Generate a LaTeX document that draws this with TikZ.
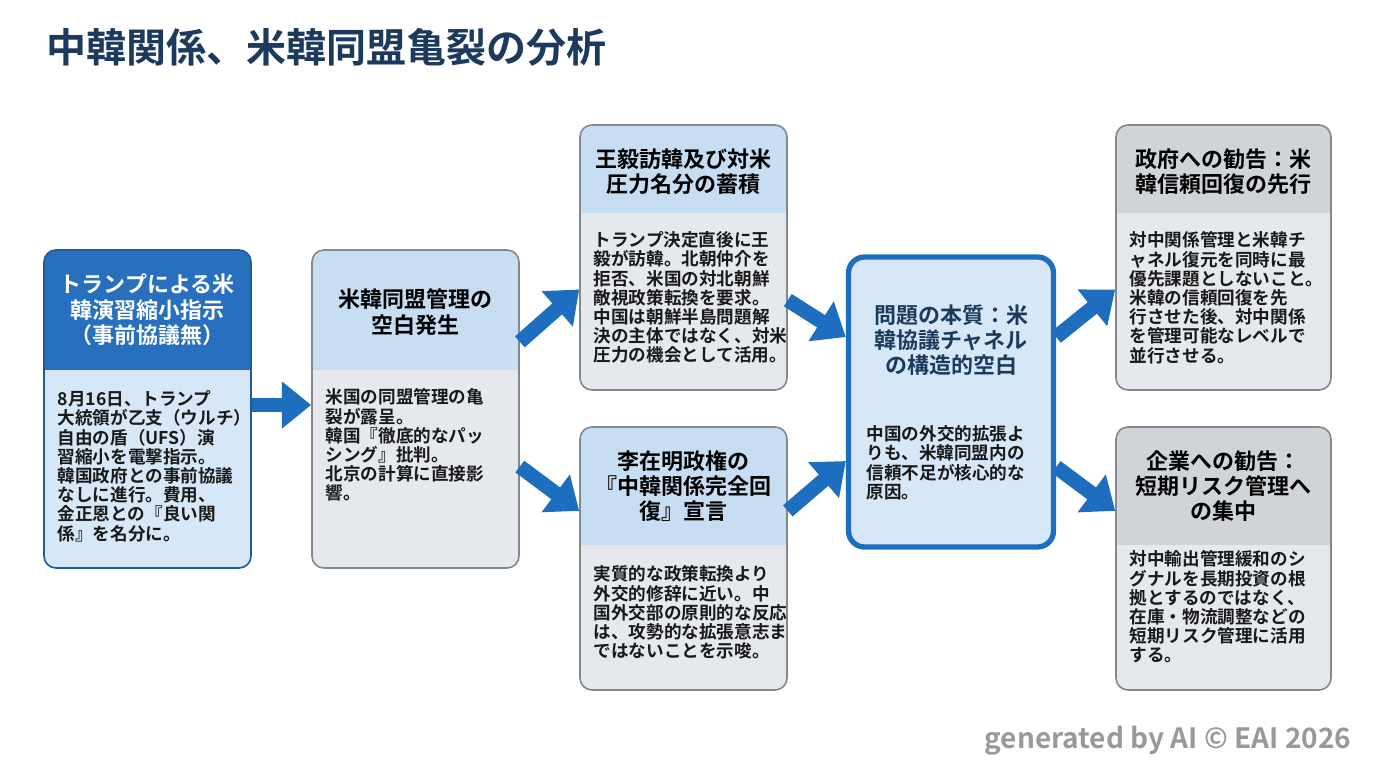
\documentclass[tikz,border=0pt]{standalone}
\usepackage{fontspec}
\setmainfont{Noto Sans CJK JP}[BoldFont={* Bold}]
\usetikzlibrary{arrows.meta,calc}
\definecolor{navy}{RGB}{27,58,92}
\definecolor{deepblue}{RGB}{40,112,190}
\definecolor{arrowblue}{RGB}{30,110,192}
\definecolor{paleblue}{RGB}{214,232,247}
\definecolor{lightblue}{RGB}{198,221,242}
\definecolor{bodygray}{RGB}{229,233,237}
\definecolor{hdrgray}{RGB}{208,212,217}
\definecolor{edgegray}{RGB}{130,136,142}
\tikzset{
  panel/.style={draw=edgegray, line width=1.2pt, rounded corners=9pt},
  hdtext/.style={font=\bfseries\fontsize{16.5}{19}\selectfont, align=center, text=black},
  bdtext/.style={font=\bfseries\fontsize{13.2}{14.4}\selectfont, align=left, anchor=north west, text=black!90},
  flow/.style={draw=arrowblue, line width=11pt, -{Triangle[width=34pt,length=22pt]}},
}
% \panel[opts]{name}{x1}{y1}{x2}{y2}{header bottom}{header fill}{body fill}
\newcommand{\panel}[9][]{%
  \begin{scope}
    \clip[rounded corners=9pt] (#3,#4) rectangle (#5,#6);
    \fill[#9] (#3,#4) rectangle (#5,#6);
    \fill[#8] (#3,#4) rectangle (#5,#7);
  \end{scope}
  \node[panel, #1, minimum width={(#5-#3)*0.75pt}, minimum height={(#6-#4)*0.75pt}]
    (#2) at ({(#3+#5)/2},{(#4+#6)/2}) {};
}
\begin{document}
\begin{tikzpicture}[x=0.75pt,y=0.75pt,yscale=-1,xscale=1]
\useasboundingbox (0,0) rectangle (1376,768);
% title
\node[anchor=west, text=navy, font=\bfseries\fontsize{30}{33}\selectfont] (title) at (42,47) {中韓関係、米韓同盟亀裂の分析};

% panels
\panel[draw=deepblue!80!black]{trump}{44}{250}{251}{568}{370}{deepblue}{paleblue}
\panel{gap}{312}{250}{519}{568}{370}{lightblue}{bodygray}
\panel{wang}{580}{125}{787}{390}{213}{lightblue}{bodygray}
\panel{lee}{580}{427}{787}{690}{545}{lightblue}{bodygray}
\node[draw=arrowblue, line width=4pt, rounded corners=12pt, fill=paleblue,
  minimum width={205*0.75pt}, minimum height={290*0.75pt}] (core) at (951,402) {};
\panel{gov}{1116}{125}{1331}{390}{213}{hdrgray}{bodygray}
\panel{biz}{1116}{427}{1331}{690}{545}{hdrgray}{bodygray}

% headers
\node[hdtext, text=white] at (147,310) {トランプによる米\\韓演習縮小指示\\（事前協議無）};
\node[hdtext] at (415,312) {米韓同盟管理の\\空白発生};
\node[hdtext] at (683,172) {王毅訪韓及び対米\\圧力名分の蓄積};
\node[hdtext] at (683,486) {李在明政権の\\『中韓関係完全回\\復』宣言};
\node[hdtext, text=navy] at (951,340) {問題の本質：米\\韓協議チャネル\\の構造的空白};
\node[hdtext] at (1223,172) {政府への勧告：米\\韓信頼回復の先行};
\node[hdtext] at (1223,486) {企業への勧告：\\短期リスク管理へ\\の集中};

% bodies
\node[bdtext] at (53,386) {8月16日、トランプ\\大統領が乙支（ウルチ）\\自由の盾（UFS）演\\習縮小を電撃指示。\\韓国政府との事前協議\\なしに進行。費用、\\金正恩との『良い関\\係』を名分に。};
\node[bdtext] at (321,384) {米国の同盟管理の亀\\裂が露呈。\\韓国『徹底的なパッ\\シング』批判。\\北京の計算に直接影\\響。};
\node[bdtext] at (589,227) {トランプ決定直後に王\\毅が訪韓。北朝仲介を\\拒否、米国の対北朝鮮\\敵視政策転換を要求。\\中国は朝鮮半島問題解\\決の主体ではなく、対米\\圧力の機会として活用。};
\node[bdtext] at (589,561) {実質的な政策転換より\\外交的修辞に近い。中\\国外交部の原則的な反応\\は、攻勢的な拡張意志ま\\ではないことを示唆。};
\node[bdtext] at (862,421) {中国の外交的拡張よ\\りも、米韓同盟内の\\信頼不足が核心的な\\原因。};
\node[bdtext] at (1125,227) {対中関係管理と米韓チ\\ャネル復元を同時に最\\優先課題としないこと。\\米韓の信頼回復を先\\行させた後、対中関係\\を管理可能なレベルで\\並行させる。};
\node[bdtext] at (1125,546) {対中輸出管理緩和のシ\\グナルを長期投資の根\\拠とするのではなく、\\在庫・物流調整などの\\短期リスク管理に活用\\する。};

% arrows
\draw[flow] (trump.east |- 0,405) -- (gap.west |- 0,405);
\draw[flow] ($(gap.north east)!0.29!(gap.south east)$) -- ($(wang.north west)!0.62!(wang.south west)$);
\draw[flow] ($(gap.north east)!0.68!(gap.south east)$) -- ($(lee.north west)!0.32!(lee.south west)$);
\draw[flow] ($(wang.north east)!0.66!(wang.south east)$) -- ($(core.north west)!0.28!(core.south west)$);
\draw[flow] ($(lee.north east)!0.32!(lee.south east)$) -- ($(core.north west)!0.70!(core.south west)$);
\draw[flow] ($(core.north east)!0.28!(core.south east)$) -- ($(gov.north west)!0.62!(gov.south west)$);
\draw[flow] ($(core.north east)!0.72!(core.south east)$) -- ($(biz.north west)!0.32!(biz.south west)$);

% watermark
\node[anchor=east, text=black!40, font=\bfseries\fontsize{21}{23}\selectfont] (mark) at (1356,741) {generated by AI © EAI 2026};
\end{tikzpicture}
\end{document}
